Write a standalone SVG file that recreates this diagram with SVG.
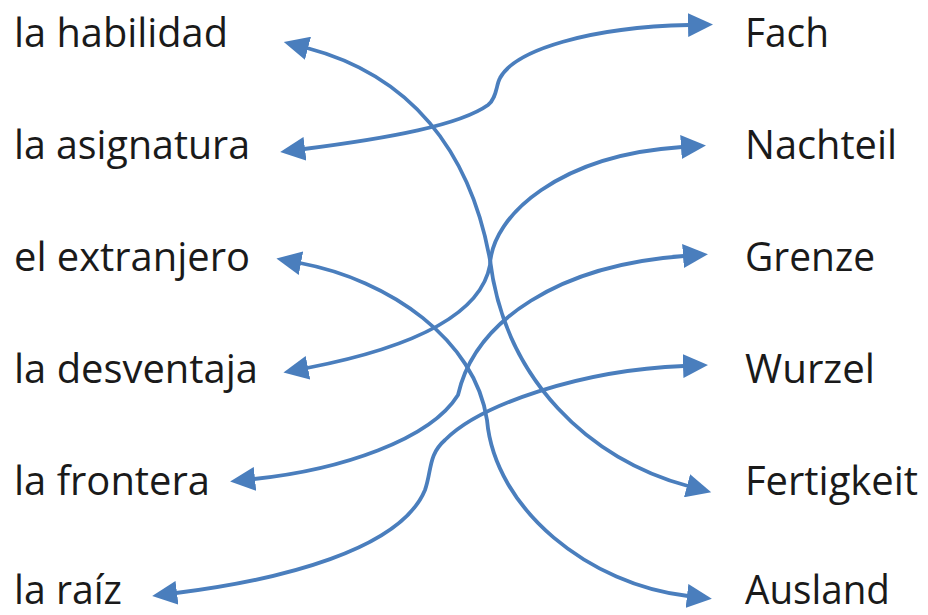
<svg xmlns="http://www.w3.org/2000/svg" width="928" height="615" viewBox="0 0 928 615">
<style>
  text { font-family: "Open Sans", "Noto Sans", "Liberation Sans", sans-serif; font-size: 40px; fill: #1a1a1a; }
  .c { fill: none; stroke: #4a7ebd; stroke-width: 3.8; stroke-linecap: round; marker-start: url(#ah); marker-end: url(#ah); }
</style>
<defs>
  <marker id="ah" markerUnits="userSpaceOnUse" markerWidth="26" markerHeight="24" refX="1" refY="12" orient="auto-start-reverse" viewBox="0 0 26 24">
    <path d="M0,0 L25,12 L0,24 z" fill="#4a7ebd"/>
  </marker>
</defs>
<rect width="928" height="615" fill="#ffffff"/>
<g id="left">
  <g id="n-habilidad"><text x="14" y="47" textLength="214" lengthAdjust="spacingAndGlyphs">la habilidad</text></g>
  <g id="n-asignatura"><text x="14" y="159" textLength="236" lengthAdjust="spacingAndGlyphs">la asignatura</text></g>
  <g id="n-extranjero"><text x="14" y="271" textLength="236" lengthAdjust="spacingAndGlyphs">el extranjero</text></g>
  <g id="n-desventaja"><text x="14" y="383" textLength="244" lengthAdjust="spacingAndGlyphs">la desventaja</text></g>
  <g id="n-frontera"><text x="14" y="495" textLength="196" lengthAdjust="spacingAndGlyphs">la frontera</text></g>
  <g id="n-raiz"><text x="14" y="604" textLength="108" lengthAdjust="spacingAndGlyphs">la raíz</text></g>
</g>
<g id="right">
  <g id="n-fach"><text x="745" y="47" textLength="84" lengthAdjust="spacingAndGlyphs">Fach</text></g>
  <g id="n-nachteil"><text x="745" y="159" textLength="152" lengthAdjust="spacingAndGlyphs">Nachteil</text></g>
  <g id="n-grenze"><text x="745" y="271" textLength="130" lengthAdjust="spacingAndGlyphs">Grenze</text></g>
  <g id="n-wurzel"><text x="745" y="383" textLength="130" lengthAdjust="spacingAndGlyphs">Wurzel</text></g>
  <g id="n-fertigkeit"><text x="745" y="495" textLength="173" lengthAdjust="spacingAndGlyphs">Fertigkeit</text></g>
  <g id="n-ausland"><text x="745" y="604" textLength="145" lengthAdjust="spacingAndGlyphs">Ausland</text></g>
</g>
<g id="connectors">
  <path class="c" d="M307,48 C410,75 470,150 490,260 C505,380 590,460 688,486"/>
  <path class="c" d="M304,149 C390,138 460,125 488,105 C497,98 496,85 500,78 C515,50 590,27 689,25"/>
  <path class="c" d="M307,368 C400,350 480,320 490,265 C492,215 560,155 682,147"/>
  <path class="c" d="M300,263 C390,280 475,340 487,420 C495,510 590,585 688,596"/>
  <path class="c" d="M254,479 C340,470 430,440 458,395 C475,320 560,265 684,256"/>
  <path class="c" d="M176,593 C280,580 400,550 425,490 C432,470 428,455 445,440 C480,405 580,370 684,366"/>
</g>
</svg>
